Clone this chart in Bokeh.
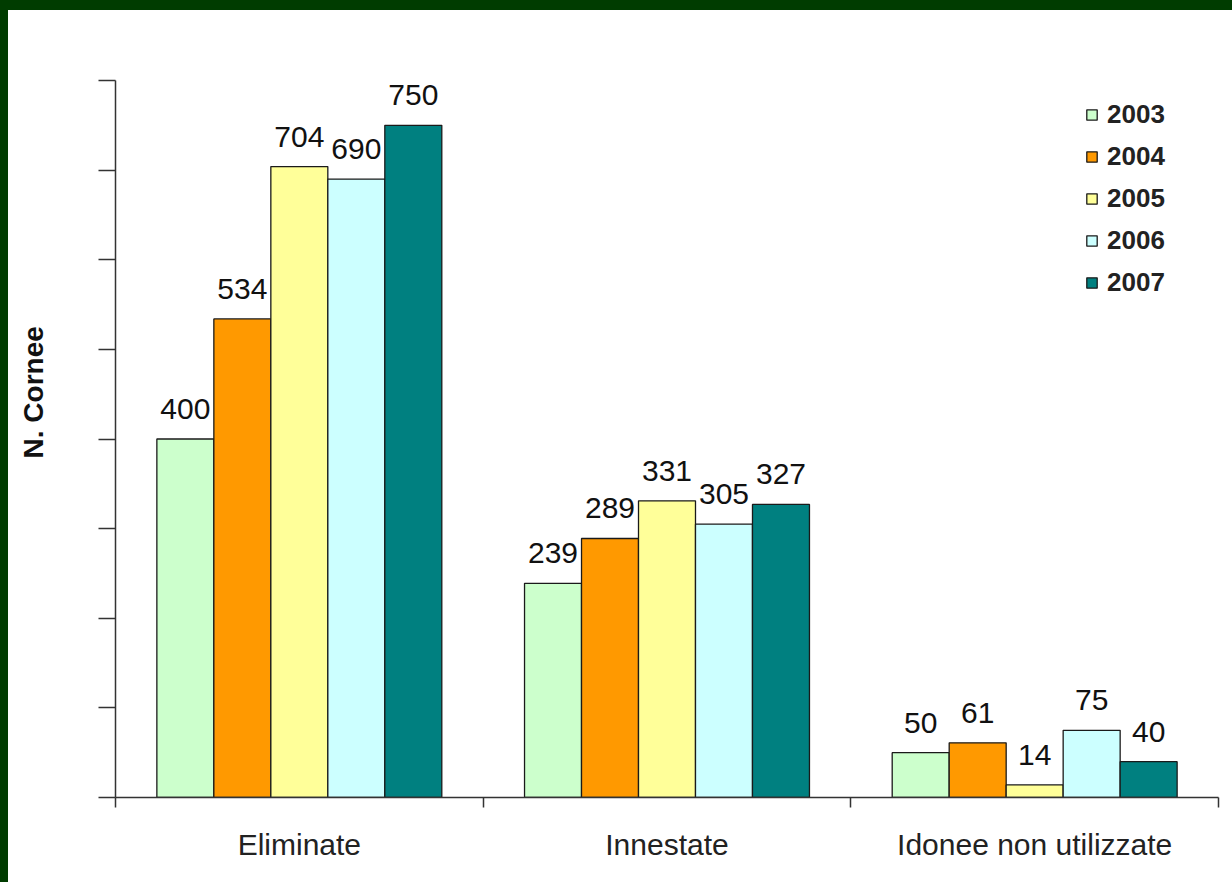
from bokeh.plotting import figure
from bokeh.models import ColumnDataSource, FixedTicker, Legend, LegendItem
from bokeh.layouts import column
from bokeh.embed import file_html
from bokeh.resources import INLINE

categories = ["Eliminate", "Innestate", "Idonee non utilizzate"]
years = ["2003", "2004", "2005", "2006", "2007"]
values = {
    "2003": [400, 239, 50],
    "2004": [534, 289, 61],
    "2005": [704, 331, 14],
    "2006": [690, 305, 75],
    "2007": [750, 327, 40],
}
colors = ["#CCFFCC", "#FF9900", "#FFFF99", "#CCFFFF", "#008080"]
y_ticks = [0, 100, 200, 300, 400, 500, 600, 700, 800]
y_title = "N. Cornee"

FONT = "Liberation Sans"
bar_w = 0.155

p = figure(width=1224, height=872, x_range=(0, 3), y_range=(0, 800),
           output_backend="svg", toolbar_location=None, margin=(10, 0, 0, 8),
           min_border_left=107, min_border_right=14, min_border_top=70, min_border_bottom=85)
p.styles = {"background-color": "white"}
p.outline_line_color = None
p.background_fill_color = "white"
p.border_fill_color = "white"
p.xgrid.visible = False
p.ygrid.visible = False

legend_items = []
n = len(years)
for i, (yr, col) in enumerate(zip(years, colors)):
    off = (i - (n - 1) / 2) * bar_w
    xs = [k + 0.5 + off for k in range(len(categories))]
    src = ColumnDataSource(dict(x=xs, top=values[yr], lab=[str(v) for v in values[yr]]))
    r = p.vbar(x="x", top="top", width=bar_w, bottom=0, source=src,
               fill_color=col, line_color="#1a1a1a", line_width=1.3)
    p.text(x="x", y="top", text="lab", source=src, text_align="center",
           text_baseline="alphabetic", y_offset=-30, text_font_size="30px",
           text_font={"value": FONT}, text_color="#111111")
    legend_items.append(LegendItem(label=yr, renderers=[r]))

legend = Legend(items=legend_items, location=(970, 499), padding=0, margin=0,
                border_line_color=None, background_fill_alpha=0,
                glyph_width=13, glyph_height=13, label_height=30, spacing=11,
                label_standoff=9, label_text_font=FONT, label_text_font_size="26px",
                label_text_font_style="bold", label_text_color="#222222")
p.add_layout(legend, "center")

xa = p.xaxis[0]
xa.ticker = FixedTicker(ticks=[k + 0.5 for k in range(len(categories))],
                        minor_ticks=list(range(len(categories) + 1)))
xa.major_label_overrides = {k + 0.5: c for k, c in enumerate(categories)}
xa.major_tick_out = 0
xa.major_tick_in = 0
xa.minor_tick_out = 10
xa.minor_tick_in = 0
xa.minor_tick_line_color = "#333333"
xa.minor_tick_line_width = 1.5
xa.axis_line_color = "#333333"
xa.axis_line_width = 1.5
xa.major_label_text_font = FONT
xa.major_label_text_font_size = "30px"
xa.major_label_text_color = "#222222"
xa.major_label_standoff = 20

ya = p.yaxis[0]
ya.ticker = FixedTicker(ticks=y_ticks, minor_ticks=[])
ya.major_label_overrides = {t: "" for t in y_ticks}
ya.major_tick_out = 17
ya.major_tick_in = 0
ya.major_tick_line_color = "#333333"
ya.major_tick_line_width = 1.5
ya.axis_line_color = "#333333"
ya.axis_line_width = 1.5
# leading non-breaking spaces shift the (centred) title upward like the original
ya.axis_label = "\u00a0" * 12 + y_title
ya.axis_label_standoff = 50
ya.axis_label_text_font = FONT
ya.axis_label_text_font_size = "28px"
ya.axis_label_text_font_style = "bold"
ya.axis_label_text_color = "#111111"

layout = column(p, styles={"background-color": "#003C00"})
open("out.html", "w").write(file_html(layout, INLINE))
